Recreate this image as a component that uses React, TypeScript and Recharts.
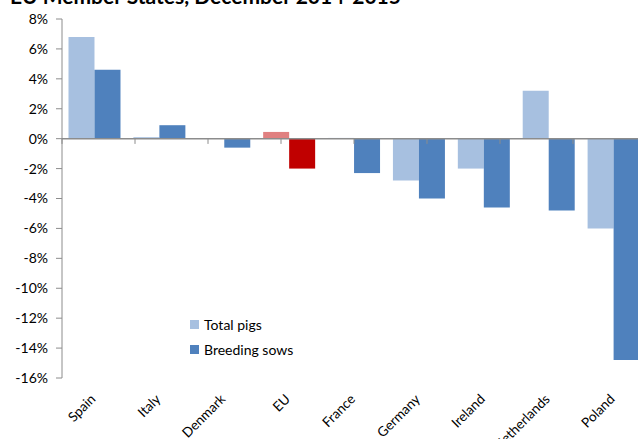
import React from 'react';
import { BarChart, Bar, XAxis, YAxis, Cell, ReferenceLine } from 'recharts';

const categories = ['Spain', 'Italy', 'Denmark', 'EU', 'France', 'Germany', 'Ireland', 'Netherlands', 'Poland'];
const totalPigs = [6.8, 0.1, 0.0, 0.45, 0.05, -2.8, -2.0, 3.2, -6.0];
const breedingSows = [4.6, 0.9, -0.6, -2.0, -2.3, -4.0, -4.6, -4.8, -14.8];
const yTicks = [-16, -14, -12, -10, -8, -6, -4, -2, 0, 2, 4, 6, 8];
const highlightCategory = 'EU';
const seriesNames = ['Total pigs', 'Breeding sows'];
const titleText = 'EU Member States, December 2014-2015';

const COLOR_TOTAL = '#a7c0e0';
const COLOR_SOWS = '#4f81bd';
const COLOR_TOTAL_HL = '#e08080';
const COLOR_SOWS_HL = '#c00000';
const AXIS = '#8c8c8c';
const FONT = 'Lato, "Open Sans", sans-serif';

const data = categories.map((c, i) => ({ name: c, total: totalPigs[i], sows: breedingSows[i] }));
const boundaries = categories.map((_, i) => i).concat([categories.length]);

const XTick = (props: any) => {
  const { x, y, payload } = props;
  return (
    <g transform={`translate(${x + 2},${y + 14})`}>
      <text textAnchor="end" transform="rotate(-45)" fontSize={13.5} fill="#000" fontFamily={FONT}>
        {payload.value}
      </text>
    </g>
  );
};

export default function App() {
  return (
    <div style={{ position: 'fixed', left: 0, top: 0, width: 638, height: 439, overflow: 'hidden', background: '#fff' }}>
      <div
        style={{
          position: 'absolute',
          left: 10,
          top: -14,
          fontFamily: FONT,
          fontWeight: 700,
          fontSize: 21,
          lineHeight: '20px',
          whiteSpace: 'nowrap',
          color: '#000',
        }}
      >
        {titleText}
      </div>
      <div style={{ position: 'absolute', left: 0, top: 0 }}>
        <BarChart
          width={660}
          height={439}
          data={data}
          margin={{ top: 19, right: 14, bottom: 0, left: 0 }}
          barCategoryGap="10%"
          barGap={0}
        >
          <XAxis
            dataKey="name"
            xAxisId={0}
            height={61}
            axisLine={false}
            tickLine={false}
            interval={0}
            tick={<XTick />}
          />
          <XAxis xAxisId="n" type="number" domain={[0, categories.length]} hide />
          <YAxis
            width={62}
            domain={[-16, 8]}
            ticks={yTicks}
            interval={0}
            tickFormatter={(v: number) => `${v}%`}
            axisLine={{ stroke: AXIS }}
            tickLine={{ stroke: AXIS }}
            tickSize={6}
            tickMargin={8}
            tick={{ fontSize: 14, fill: '#000', fontFamily: FONT }}
          />
          <Bar dataKey="total" name={seriesNames[0]} fill={COLOR_TOTAL} isAnimationActive={false}>
            {data.map((d) => (
              <Cell key={d.name} fill={d.name === highlightCategory ? COLOR_TOTAL_HL : COLOR_TOTAL} />
            ))}
          </Bar>
          <Bar dataKey="sows" name={seriesNames[1]} fill={COLOR_SOWS} isAnimationActive={false}>
            {data.map((d) => (
              <Cell key={d.name} fill={d.name === highlightCategory ? COLOR_SOWS_HL : COLOR_SOWS} />
            ))}
          </Bar>
          <ReferenceLine y={0} stroke={AXIS} strokeWidth={1.5} />
          {boundaries.map((b) => (
            <ReferenceLine
              key={b}
              xAxisId="n"
              segment={[{ x: b, y: 0 }, { x: b, y: -0.35 }]}
              stroke={AXIS}
              ifOverflow="visible"
            />
          ))}
        </BarChart>
      </div>
      <div style={{ position: 'absolute', left: 190, top: 312, fontFamily: FONT, fontSize: 14, color: '#000' }}>
        {seriesNames.map((n, i) => (
          <div key={n} style={{ display: 'flex', alignItems: 'center', height: 25 }}>
            <span
              style={{
                display: 'inline-block',
                width: 9,
                height: 9,
                background: i === 0 ? COLOR_TOTAL : COLOR_SOWS,
                marginRight: 5,
              }}
            />
            <span>{n}</span>
          </div>
        ))}
      </div>
    </div>
  );
}
